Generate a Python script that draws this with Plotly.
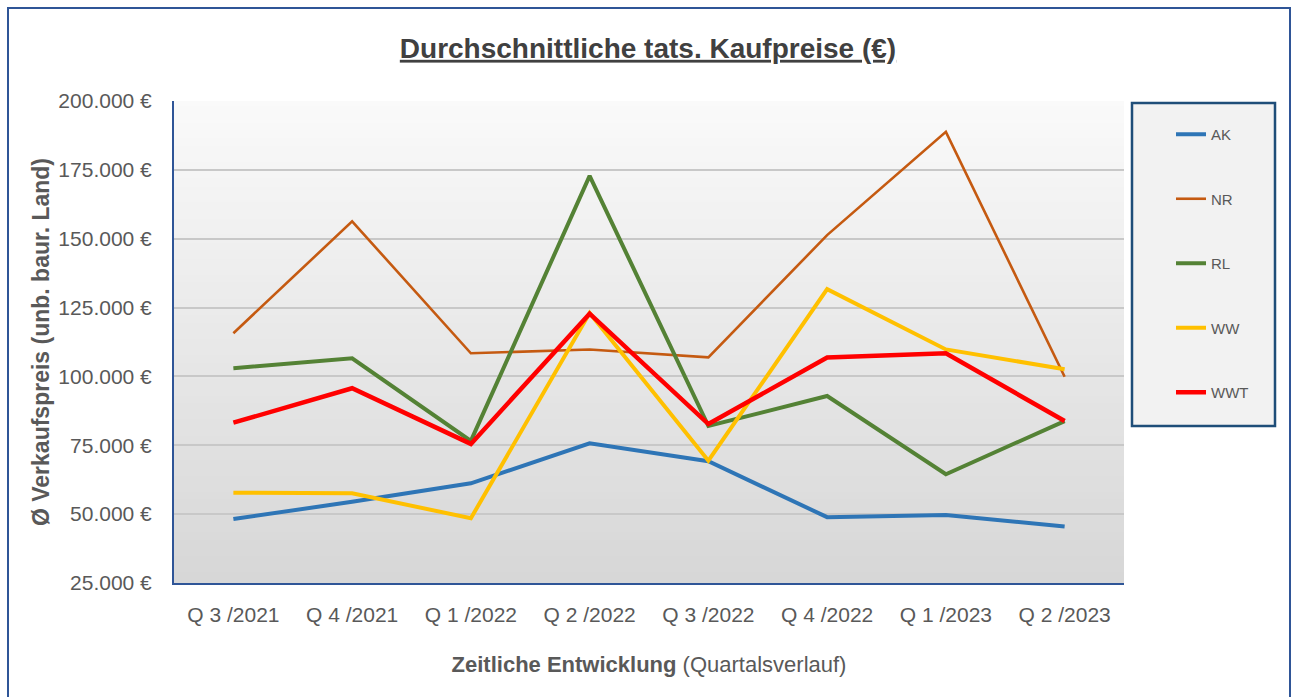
import plotly.graph_objects as go

# ---- data ----
quarters = ["Q 3 /2021", "Q 4 /2021", "Q 1 /2022", "Q 2 /2022",
            "Q 3 /2022", "Q 4 /2022", "Q 1 /2023", "Q 2 /2023"]
ak  = [48200, 54500, 61200, 75700, 69200, 48900, 49700, 45500]
nr  = [115700, 156300, 108400, 109800, 106900, 151300, 188800, 99900]
rl  = [103000, 106600, 76600, 172800, 82000, 92900, 64500, 83800]
ww  = [57800, 57600, 48500, 123000, 69400, 131700, 109800, 102600]
wwt = [83200, 95700, 75500, 122800, 82700, 106900, 108400, 83800]

series_names = ["AK", "NR", "RL", "WW", "WWT"]
series_vals = [ak, nr, rl, ww, wwt]
colors = ["#2E75B6", "#C55A11", "#548235", "#FFC000", "#FF0000"]
widths = [4, 2.6, 4, 4, 4.5]

y_ticks = [25000, 50000, 75000, 100000, 125000, 150000, 175000, 200000]
y_ticktext = ["25.000 €", "50.000 €", "75.000 €", "100.000 €", "125.000 €",
              "150.000 €", "175.000 €", "200.000 €"]

FONT = "Liberation Sans, Arial, sans-serif"
GREY = "#595959"
BLUE = "#2F5597"

fig = go.Figure()
for i, (name, vals) in enumerate(zip(series_names, series_vals)):
    fig.add_trace(go.Scatter(
        x=quarters, y=vals, name=name, mode="lines",
        line=dict(color=colors[i], width=widths[i]),
        legendgroup=name,
    ))

# gradient plot background (strips)
shapes = []
n = 60
top = (250, 250, 250)
bot = (215, 215, 215)
for k in range(n):
    t = k / (n - 1)
    c = tuple(int(round(top[j] + (bot[j] - top[j]) * t)) for j in range(3))
    shapes.append(dict(type="rect", xref="x domain", yref="y domain",
                       x0=0, x1=1, y0=max(0, 1 - (k + 1) / n),
                       y1=min(1, 1 - k / n + 0.006),
                       fillcolor="rgb(%d,%d,%d)" % c, line=dict(width=0),
                       layer="below"))

# outer border
shapes.append(dict(type="rect", xref="paper", yref="paper",
                   x0=(8 - 174) / 950, x1=(1290 - 174) / 950,
                   y0=(583 - 720) / 482, y1=(583 - 8) / 482,
                   line=dict(color=BLUE, width=2), fillcolor="rgba(0,0,0,0)",
                   layer="below"))
# legend box
shapes.append(dict(type="rect", xref="paper", yref="paper",
                   x0=(1132 - 174) / 950, x1=(1275 - 174) / 950,
                   y0=(583 - 426) / 482, y1=(583 - 103) / 482,
                   line=dict(color="#1F4E79", width=2.5), fillcolor="#F2F2F2",
                   layer="below"))

fig.update_layout(
    width=1296, height=697,
    margin=dict(l=174, r=172, t=101, b=114),
    paper_bgcolor="white",
    plot_bgcolor="rgba(0,0,0,0)",
    font=dict(family=FONT, color=GREY, size=21),
    title=dict(text="<b><u>Durchschnittliche tats. Kaufpreise (€)</u></b>",
               x=0.5, xref="container", xanchor="center",
               y=1 - 48 / 697, yref="container", yanchor="middle",
               font=dict(size=28, color="#404040", family=FONT)),
    shapes=shapes,
    showlegend=True,
    legend=dict(x=(1171 - 174) / 950, xanchor="left",
                y=(583 - 118) / 482, yanchor="top",
                bgcolor="rgba(0,0,0,0)", borderwidth=0,
                font=dict(size=15, color=GREY, family=FONT),
                tracegroupgap=42),
    xaxis=dict(
        type="category", range=[-0.5, 7.5],
        showgrid=False, showline=True, linecolor=BLUE, linewidth=2,
        ticks="", tickfont=dict(size=21, color=GREY),
        ticklabelstandoff=12,
        title=dict(text="<b>Zeitliche Entwicklung</b> (Quartalsverlauf)",
                   font=dict(size=22, color=GREY), standoff=31),
        fixedrange=True,
    ),
    yaxis=dict(
        range=[25000, 200000], tickvals=y_ticks, ticktext=y_ticktext,
        showgrid=True, gridcolor="#C8C8C8", gridwidth=1.5,
        showline=True, linecolor=BLUE, linewidth=2,
        zeroline=False, ticks="",
        tickfont=dict(size=21, color=GREY),
        ticklabelstandoff=16,
        title=dict(text="<b>Ø Verkaufspreis (unb. baur. Land)</b>",
                   font=dict(size=23, color=GREY), standoff=2),
        fixedrange=True,
    ),
)

fig.write_html("out.html",
               config={"displayModeBar": False},
               post_script="document.body.style.margin='0';")
